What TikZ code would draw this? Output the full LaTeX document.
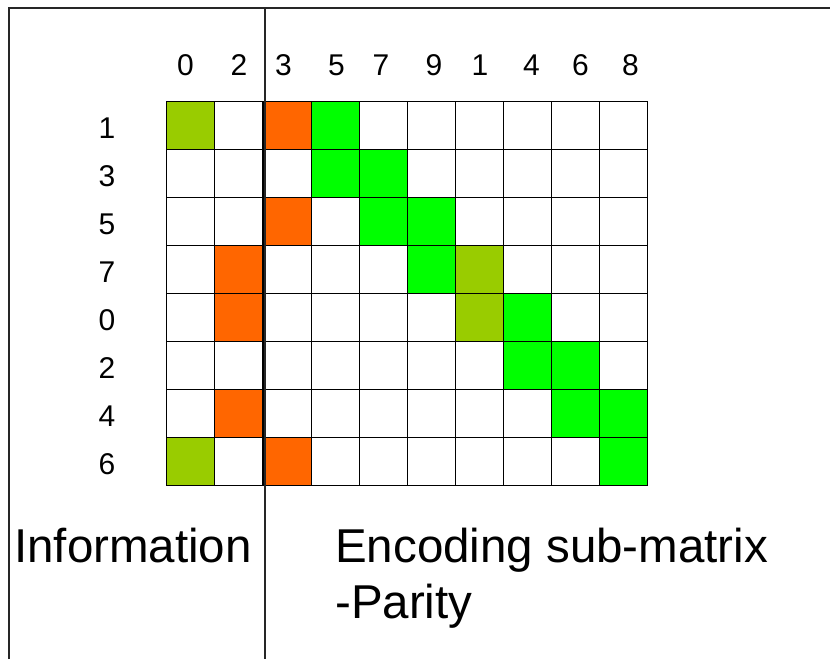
\documentclass[tikz,border=0pt]{standalone}
\usepackage{fontspec}
\setmainfont{Liberation Sans}
\definecolor{cy}{HTML}{99CC00}
\definecolor{co}{HTML}{FF6600}
\definecolor{cg}{HTML}{00FF00}
\definecolor{cw}{HTML}{FFFFFF}
\begin{document}
\begin{tikzpicture}[x=1pt,y=-1pt,
  cell/.style={draw=black, line width=1pt, minimum size=48pt, inner sep=0pt, outer sep=0pt, anchor=north west},
  lbl/.style={font=\fontsize{30}{36}\selectfont, anchor=base, inner sep=0pt},
  big/.style={font=\fontsize{47.5}{56}\selectfont, anchor=base west, inner sep=0pt},
  frame/.style={draw=black!85, line width=1.8pt}]
\useasboundingbox (0,0) rectangle (830,659);
% frame
\coordinate (fbl) at (9,659);
\coordinate (ftl) at (9,8);
\coordinate (ftr) at (830,8);
\coordinate (dtop) at (265,8);
\coordinate (dbot) at (265,659);
% grid
\foreach \r/\row in {0/{cy,cw,co,cg,cw,cw,cw,cw,cw,cw},
                     1/{cw,cw,cw,cg,cg,cw,cw,cw,cw,cw},
                     2/{cw,cw,co,cw,cg,cg,cw,cw,cw,cw},
                     3/{cw,co,cw,cw,cw,cg,cy,cw,cw,cw},
                     4/{cw,co,cw,cw,cw,cw,cy,cg,cw,cw},
                     5/{cw,cw,cw,cw,cw,cw,cw,cg,cg,cw},
                     6/{cw,co,cw,cw,cw,cw,cw,cw,cg,cg},
                     7/{cy,cw,co,cw,cw,cw,cw,cw,cw,cg}}{
  \foreach \f [count=\c from 0] in \row {
    \pgfmathsetmacro\xx{166+48*\c+(\c>1)}
    \pgfmathsetmacro\yy{101+48*\r}
    \node[cell, fill=\f] (cell-\r-\c) at (\xx,\yy) {};
  }
}
% column labels
\foreach \x/\t [count=\i] in {185.5/0,239/2,283.5/3,336.5/5,381/7,434/9,480/1,531.5/4,580.5/6,630.5/8}{
  \node[lbl] (col-\i) at (\x,75) {\t};
}
% row labels
\foreach \t [count=\i from 0] in {1,3,5,7,0,2,4,6}{
  \pgfmathsetmacro\yy{138+48*\i}
  \node[lbl] (row-\i) at (107,\yy) {\t};
}
\draw[frame] (fbl) -- (ftl) -- (ftr);
\draw[frame] (dtop) -- (dbot);
\node[big] (info) at (14,562) {Information};
\node[big] (enc) at (335,562) {Encoding sub-matrix};
\node[big] (par) at (335,618) {-Parity};
\end{tikzpicture}
\end{document}
